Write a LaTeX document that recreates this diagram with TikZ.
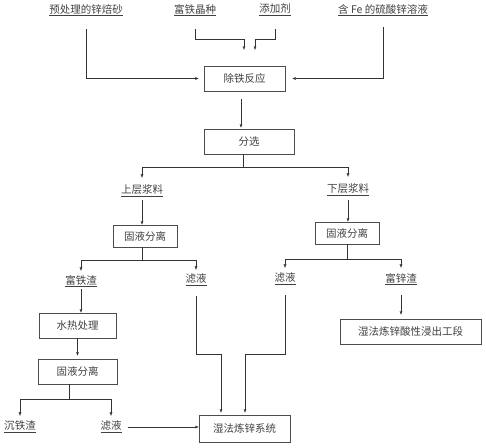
\documentclass[tikz,border=0pt]{standalone}
\usepackage{fontspec}
\usetikzlibrary{arrows.meta}
\newfontfamily\cjk{Noto Sans CJK SC}

\begin{document}
\begin{tikzpicture}[x=1pt, y=-1pt,
        every node/.style={font=\cjk\fontsize{10.5}{12}\selectfont, text=black!75},
        lbl/.style={inner sep=1pt},
        box/.style={draw=black!70, minimum height=25pt, inner sep=0pt},
        arr/.style={draw=black!80, -{Latex[length=3.5pt, width=3pt]}},
        ln/.style={draw=black!80}]
                \useasboundingbox (0, 0) rectangle (486, 447);

                % inputs
                \node[lbl] (pre) at (86, 10) {\underline{预处理的锌焙砂}};
                \node[lbl] (seed) at (195, 10) {\underline{富铁晶种}};
                \node[lbl] (add) at (275, 10) {\underline{添加剂}};
                \node[lbl] (fe) at (383, 10) {\underline{含 Fe 的硫酸锌溶液}};

                \node[box, minimum width=81pt] (react) at (244.5, 78.5) {除铁反应};
                \node[box, minimum width=90pt] (sort) at (249, 141.5) {分选};

                \coordinate (seedbend) at (244, 39);
                \coordinate (seedend) at (244, 50);
                \coordinate (addbend) at (255, 39);
                \coordinate (addend) at (255, 50);

                \draw[arr, shorten <=12pt, shorten >=5pt] (pre) |- (react);
                \draw[arr, shorten <=12pt] (seed) |- (seedbend) -- (seedend);
                \draw[arr, shorten <=12pt] (add) |- (addbend) -- (addend);
                \draw[arr, shorten <=10pt, shorten >=7pt] (fe) |- (react);
                \draw[arr, shorten <=8pt, shorten >=1pt] ([xshift=-3.5pt]react.south) -- ([xshift=-3.5pt]react.south |- sort.north);

                % two layers
                \node[lbl] (upper) at (142, 191) {\underline{上层浆料}};
                \node[lbl] (lower) at (348, 190) {\underline{下层浆料}};
                \coordinate (fork1) at (243, 167);
                \draw[ln] (fork1 |- sort.south) -- (fork1);
                \draw[arr, shorten >=6pt] (fork1) -| (upper);
                \draw[arr, shorten >=6pt] (fork1) -| (lower);

                \node[box, minimum width=64pt, minimum height=22pt] (sepL) at (145, 236) {固液分离};
                \node[box, minimum width=64pt, minimum height=22pt] (sepR) at (347, 233) {固液分离};
                \draw[arr, shorten <=2pt] (upper) -- (upper |- sepL.north);
                \draw[arr, shorten <=3pt] (lower) -- (lower |- sepR.north);

                \node[lbl] (ironres) at (81, 281) {\underline{富铁渣}};
                \node[lbl] (filtL) at (196, 280) {\underline{滤液}};
                \node[lbl] (filtR) at (285, 279) {\underline{滤液}};
                \node[lbl] (zincres) at (401, 279) {\underline{富锌渣}};

                \coordinate (fork2) at (142, 260);
                \draw[ln] (fork2 |- sepL.south) -- (fork2);
                \draw[arr, shorten >=3pt] (fork2) -| (ironres);
                \draw[arr, shorten >=3pt] (fork2) -| (filtL);
                \coordinate (fork3) at (347, 259);
                \draw[ln] (sepR) -- (fork3);
                \draw[arr, shorten >=4pt] (fork3) -| (filtR);
                \draw[arr, shorten >=4pt] (fork3) -| (zincres);

                % iron-rich residue
                \node[box, minimum width=77pt] (hydro) at (77.5, 325.5) {水热处理};
                \node[box, minimum width=79pt] (sep3) at (77.5, 371.5) {固液分离};
                \draw[arr, shorten <=1pt] (ironres) -- (ironres |- hydro.north);
                \draw[arr, shorten >=3pt] (hydro) -- (sep3);

                \node[lbl] (precip) at (20, 427) {\underline{沉铁渣}};
                \node[lbl] (filt3) at (111, 427) {\underline{滤液}};
                \coordinate (fork4) at (69, 399);
                \draw[ln] (fork4 |- sep3.south) -- (fork4);
                \draw[arr, shorten >=4pt] (fork4) -| (precip);
                \draw[arr, shorten >=4pt] (fork4) -| (filt3);

                \node[box, minimum width=91pt, minimum height=27pt] (wet) at (244.5, 428.5) {湿法炼锌系统};
                \node[box, minimum width=141pt] (leach) at (410.5, 331.5) {湿法炼锌酸性浸出工段};

                \draw[arr, shorten <=5pt] (filt3) -- (filt3 -| wet.west);
                \coordinate (mergeL) at (221, 354);
                \coordinate (mergeR) at (245, 354);
                \draw[arr, shorten <=9pt, shorten >=2pt] (filtL) |- (mergeL) -- (mergeL |- wet.north);
                \draw[arr, shorten <=9pt, shorten >=2pt] (filtR) |- (mergeR) -- (mergeR |- wet.north);
                \draw[arr, shorten <=9pt, shorten >=4pt] (zincres) -- (zincres |- leach.north);
            \end{tikzpicture}
\end{document}
